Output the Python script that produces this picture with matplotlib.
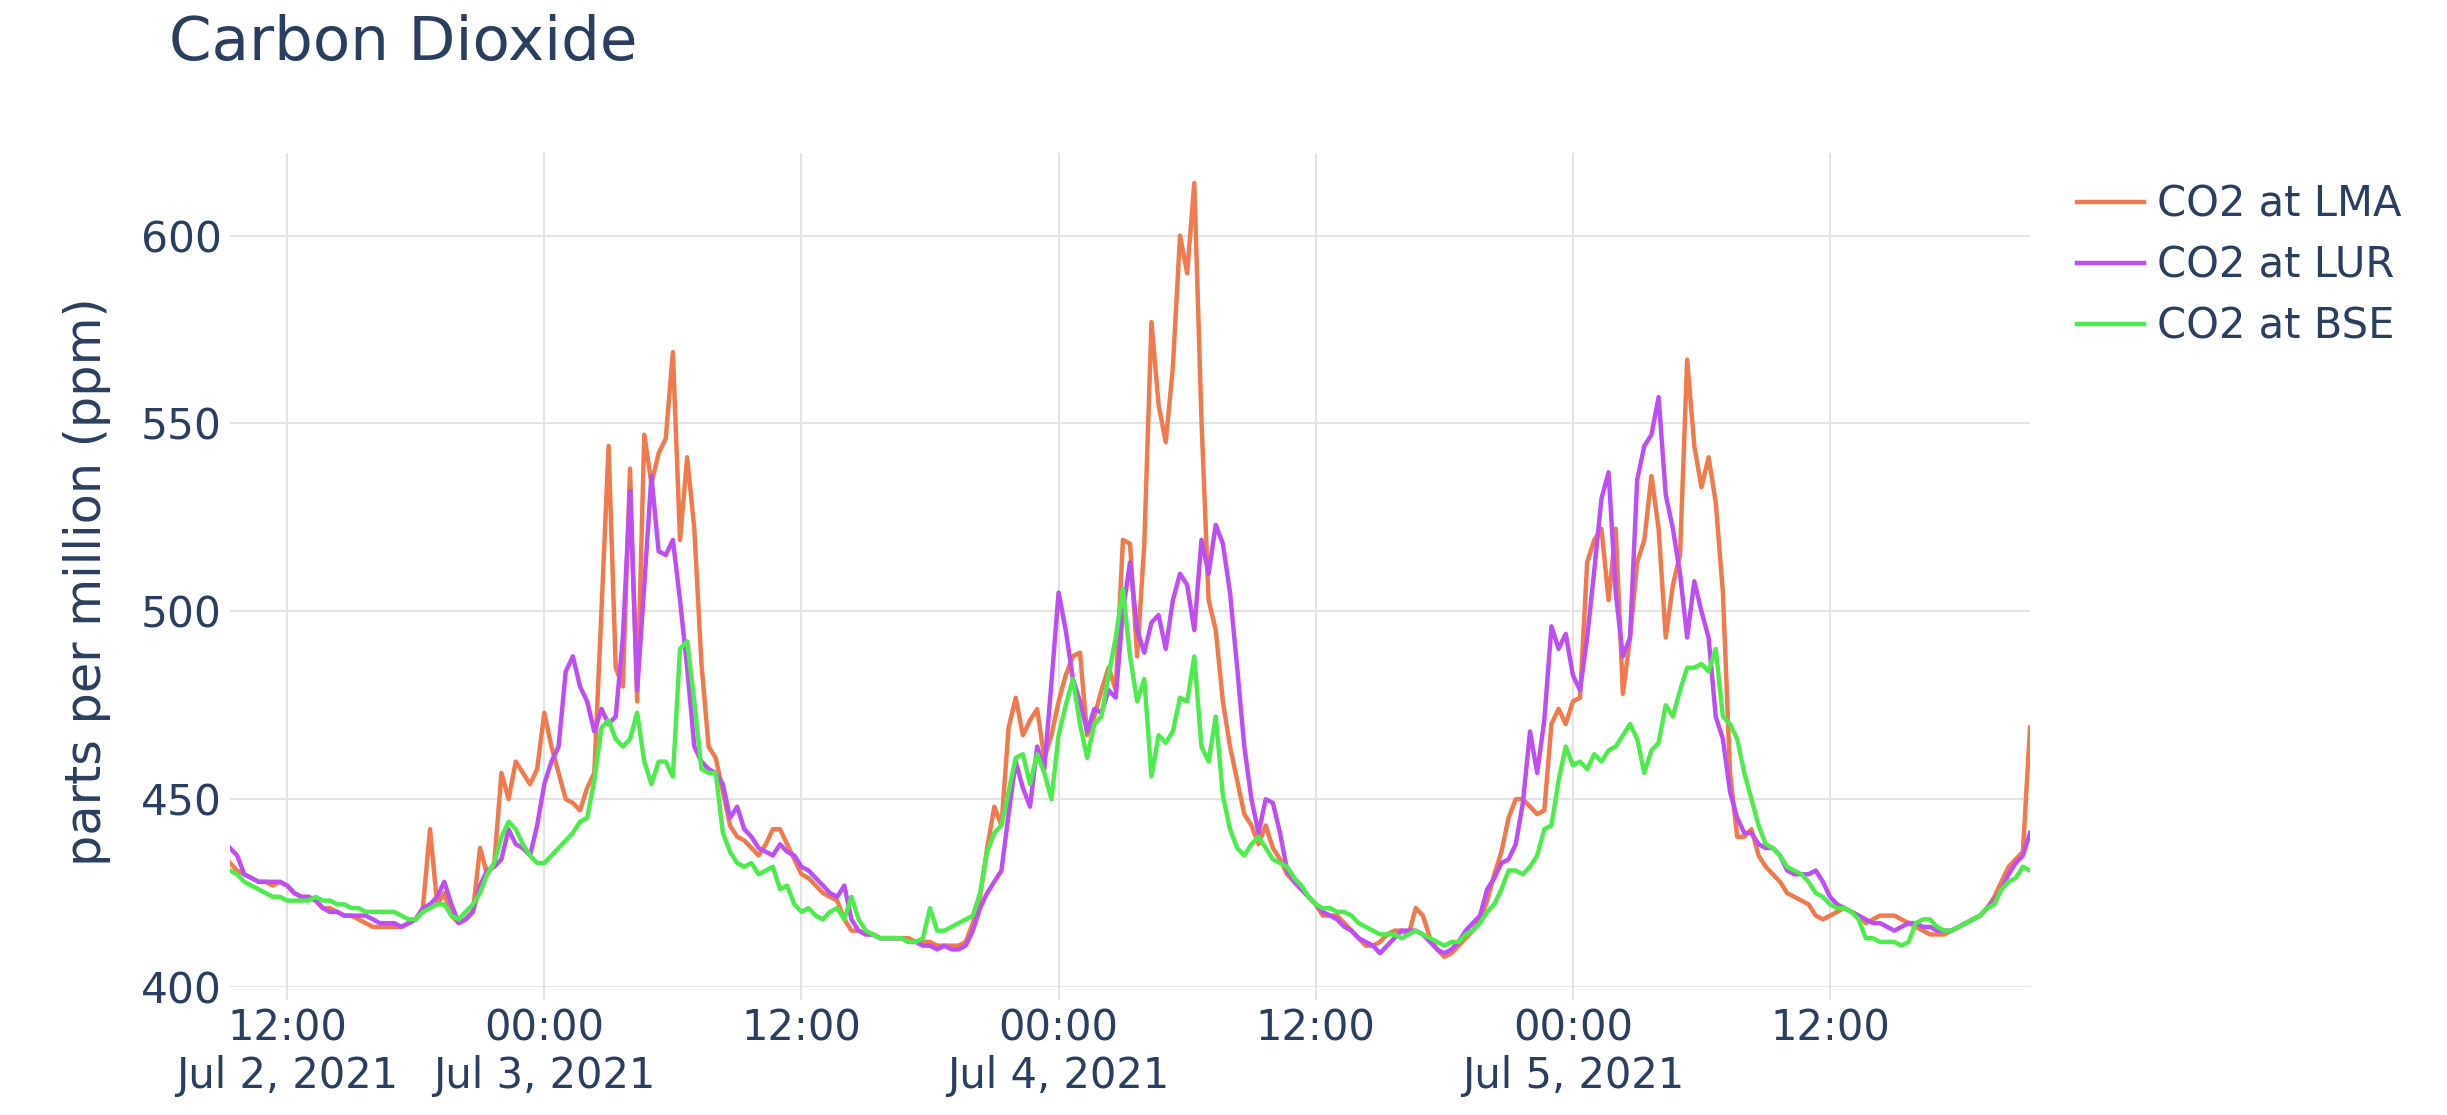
import matplotlib
matplotlib.use("Agg")
import matplotlib.pyplot as plt
import matplotlib.dates as mdates
from matplotlib.ticker import FixedLocator, FuncFormatter
import pandas as pd

# CO2 readings (ppm), one value every 20 minutes from Jul 2 2021 09:20
start = "2021-07-02 09:20"
step = "20min"

lma = [433, 431,
       430, 429, 428, 428, 427, 428, 427, 425, 424, 424, 423, 421,
       421, 420, 419, 419, 418, 417, 416, 416, 416, 416, 416, 417,
       418, 421, 442, 422, 425, 419, 417, 418, 420, 437, 430, 433,
       457, 450, 460, 457, 454, 458, 473, 464, 457, 450, 449, 447,
       453, 457, 500, 544, 485, 480, 538, 476, 547, 534, 542, 546,
       569, 519, 541, 522, 486, 464, 461, 452, 443, 440, 439, 437,
       435, 438, 442, 442, 438, 434, 430, 429, 427, 425, 424, 423,
       418, 415, 415, 414, 414, 413, 413, 413, 413, 413, 412, 412,
       412, 411, 411, 411, 411, 412, 417, 424, 437, 448, 443, 469,
       477, 467, 471, 474, 461, 467, 476, 483, 488, 489, 467, 472,
       479, 485, 479, 519, 518, 488, 518, 577, 555, 545, 565, 600,
       590, 614, 551, 503, 495, 476, 464, 455, 446, 443, 438, 443,
       437, 434, 430, 428, 426, 424, 422, 419, 419, 419, 417, 415,
       413, 411, 411, 412, 414, 415, 415, 414, 421, 419, 413, 410,
       408, 409, 411, 413, 415, 418, 423, 430, 436, 445, 450, 450,
       448, 446, 447, 470, 474, 470, 476, 477, 513, 519, 522, 503,
       522, 478, 493, 513, 519, 536, 522, 493, 507, 515, 567, 544,
       533, 541, 529, 505, 457, 440, 440, 442, 435, 432, 430, 428,
       425, 424, 423, 422, 419, 418, 419, 420, 421, 420, 419, 417,
       418, 419, 419, 419, 418, 417, 416, 415, 414, 414, 414, 415,
       416, 417, 418, 419, 421, 424, 428, 432, 434,
       436, 469]

lur = [437, 435,
       430, 429, 428, 428, 428, 428, 427, 425, 424, 424, 423, 421,
       420, 420, 419, 419, 419, 419, 418, 417, 417, 417, 416, 417,
       418, 421, 422, 424, 428, 422, 417, 418, 420, 427, 431, 432,
       434, 442, 438, 437, 435, 443, 454, 460, 464, 484, 488, 480,
       476, 468, 474, 470, 472, 493, 532, 479, 507, 536, 516, 515,
       519, 503, 485, 464, 460, 458, 457, 454, 445, 448, 442, 440,
       437, 436, 435, 438, 436, 435, 432, 431, 429, 427, 425, 424,
       427, 418, 415, 414, 414, 413, 413, 413, 413, 412, 412, 411,
       411, 410, 411, 410, 410, 411, 415, 421, 425, 428, 431, 446,
       460, 453, 448, 464, 458, 481, 505, 495, 482, 476, 468, 474,
       473, 479, 477, 500, 513, 495, 489, 497, 499, 490, 503, 510,
       507, 495, 519, 510, 523, 518, 505, 485, 464, 450, 441, 450,
       449, 441, 431, 428, 426, 424, 422, 420, 419, 418, 416, 415,
       413, 412, 411, 409, 411, 413, 415, 415, 415, 414, 412, 410,
       409, 410, 412, 415, 417, 419, 426, 429, 433, 434, 438, 449,
       468, 457, 471, 496, 490, 494, 483, 479, 493, 511, 530, 537,
       505, 488, 493, 535, 544, 547, 557, 531, 522, 510, 493, 508,
       500, 493, 472, 466, 452, 445, 441, 441, 438, 437, 437, 435,
       431, 430, 430, 430, 431, 428, 424, 422, 421, 420, 419, 418,
       417, 417, 416, 415, 416, 417, 417, 416, 416, 415, 415, 415,
       416, 417, 418, 419, 421, 423, 426, 430, 433,
       435, 441]

bse = [431, 430,
       428, 427, 426, 425, 424, 424, 423, 423, 423, 423, 424, 423,
       423, 422, 422, 421, 421, 420, 420, 420, 420, 420, 419, 418,
       418, 420, 421, 422, 422, 419, 418, 420, 422, 425, 430, 433,
       440, 444, 442, 438, 435, 433, 433, 435, 437, 439, 441, 444,
       445, 455, 469, 471, 466, 464, 466, 473, 460, 454, 460, 460,
       456, 490, 492, 476, 458, 457, 457, 441, 436, 433, 432, 433,
       430, 431, 432, 426, 427, 422, 420, 421, 419, 418, 420, 421,
       418, 424, 418, 415, 414, 413, 413, 413, 413, 412, 412, 413,
       421, 415, 415, 416, 417, 418, 419, 425, 436, 441, 443, 452,
       461, 462, 454, 462, 457, 450, 467, 475, 482, 470, 461, 470,
       472, 483, 493, 506, 488, 476, 482, 456, 467, 465, 468, 477,
       476, 488, 464, 460, 472, 451, 442, 437, 435, 438, 440, 437,
       434, 433, 432, 429, 427, 424, 422, 421, 421, 420, 420, 419,
       417, 416, 415, 414, 414, 414, 413, 414, 415, 414, 413, 412,
       411, 412, 412, 414, 415, 417, 420, 422, 426, 431, 431, 430,
       432, 435, 442, 443, 455, 464, 459, 460, 458, 462, 460, 463,
       464, 467, 470, 466, 457, 463, 465, 475, 472, 479, 485, 485,
       486, 484, 490, 472, 470, 466, 457, 450, 443, 438, 437, 435,
       432, 431, 430, 428, 425, 424, 422, 421, 421, 420, 418, 413,
       413, 412, 412, 412, 411, 412, 417, 418, 418, 416, 415, 415,
       416, 417, 418, 419, 421, 422, 426, 428, 429,
       432, 431]

series = [("CO2 at LMA", lma, "#EE7A4E"),
          ("CO2 at LUR", lur, "#BC4EF2"),
          ("CO2 at BSE", bse, "#4DEB4D")]

assert len(lma) == len(lur) == len(bse), (len(lma), len(lur), len(bse))

times = pd.date_range(start, periods=len(lma), freq=step)
tick_times = pd.date_range("2021-07-02 12:00", "2021-07-05 12:00", freq="12h")

text_color = "#2a3f5f"
grid_color = "#e3e3e3"
plt.rcParams["font.family"] = ["DejaVu Sans"]

fig = plt.figure(figsize=(24.47, 11.15), dpi=100)
ax = fig.add_axes([0.094, 0.1148, 0.7356, 0.748])

for name, vals, col in series:
    ax.plot(times, vals, color=col, lw=3.2, label=name, solid_joinstyle="round")

ax.set_xlim(times[0], times[-1])
ax.set_ylim(400, 622)
ax.set_yticks([400, 450, 500, 550, 600])


def fmt(x, pos):
    d = mdates.num2date(x)
    s = d.strftime("%H:%M")
    if d.hour == 0 or pos == 0:
        s += "\n" + d.strftime("%b ") + str(d.day) + d.strftime(", %Y")
    return s


ax.xaxis.set_major_locator(FixedLocator(mdates.date2num(tick_times)))
ax.xaxis.set_major_formatter(FuncFormatter(fmt))

ax.grid(True, color=grid_color, lw=1.4)
ax.set_axisbelow(True)
for sp in ax.spines.values():
    sp.set_visible(False)
ax.tick_params(axis="x", length=9, width=1.4, color=grid_color, pad=6,
               labelsize=30, labelcolor=text_color)
ax.tick_params(axis="y", length=0, pad=6, labelsize=30.5, labelcolor=text_color)
for lab in ax.get_xticklabels():
    lab.set_linespacing(1.15)

ax.set_ylabel("parts per million (ppm)", fontsize=35.5, color=text_color)
ax.yaxis.set_label_coords(-0.066, 0.486)

fig.text(0.069, 0.946, "Carbon Dioxide", fontsize=44, color=text_color,
         ha="left", va="baseline")

leg = fig.legend(loc="upper left", bbox_to_anchor=(0.8488, 0.835), frameon=False,
                 fontsize=30, handlelength=1.6, handletextpad=0.33,
                 labelspacing=0.45, borderaxespad=0, borderpad=0)
for t in leg.get_texts():
    t.set_color(text_color)

fig.savefig("out.png", dpi=100, facecolor="white")
